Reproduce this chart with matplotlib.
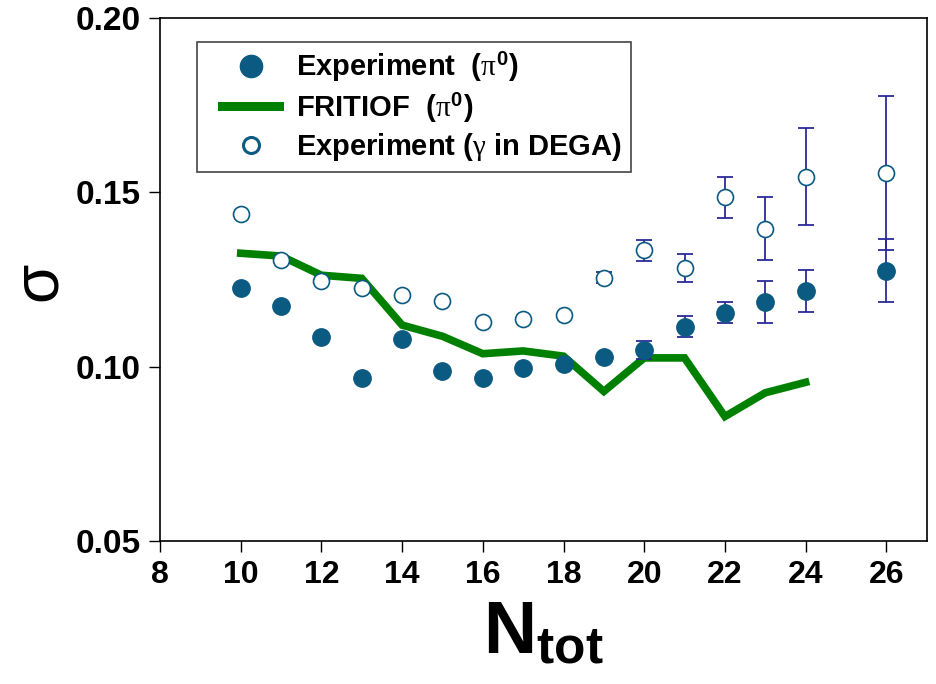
import numpy as np
import matplotlib.pyplot as plt
from matplotlib.lines import Line2D
from matplotlib.legend_handler import HandlerLine2D

plt.rcParams['font.family'] = ['Liberation Sans', 'DejaVu Sans']
plt.rcParams['mathtext.fontset'] = 'custom'
plt.rcParams['mathtext.rm'] = 'Liberation Sans:bold'
plt.rcParams['mathtext.it'] = 'Liberation Serif'
plt.rcParams['mathtext.bf'] = 'Liberation Sans:bold'

# experiment pi0 (filled)
n_pi0 = [10, 11, 12, 13, 14, 15, 16, 17, 18, 19, 20, 21, 22, 23, 24, 26]
sig_pi0 = [0.1224, 0.1175, 0.1086, 0.0968, 0.1078, 0.0988, 0.0968, 0.0996,
           0.1007, 0.1027, 0.1048, 0.1115, 0.1154, 0.1186, 0.1216, 0.1275]
err_pi0 = [0, 0, 0, 0, 0, 0, 0, 0, 0, 0, 0.0025, 0.003, 0.003, 0.006, 0.006, 0.009]

# experiment gamma in DEGA (open)
n_gam = [10, 11, 12, 13, 14, 15, 16, 17, 18, 19, 20, 21, 22, 23, 24, 26]
sig_gam = [0.1437, 0.1307, 0.1245, 0.1226, 0.1205, 0.1187, 0.1127, 0.1137,
           0.1147, 0.1255, 0.1334, 0.1284, 0.1485, 0.1395, 0.1545, 0.1555]
err_gam = [0, 0, 0, 0, 0, 0, 0, 0, 0, 0.0015, 0.003, 0.004, 0.006, 0.009, 0.0138, 0.022]

# FRITIOF pi0
n_fr = [10, 11, 12, 13, 14, 15, 16, 17, 18, 19, 20, 21, 22, 23, 24]
sig_fr = [0.1325, 0.1317, 0.1262, 0.1253, 0.1119, 0.1087, 0.1037, 0.1045,
          0.1030, 0.0929, 0.1025, 0.1025, 0.0857, 0.0925, 0.0955]

blue = '#0b5a82'
ebar = '#2a2a9a'
green = '#008000'

fig = plt.figure(figsize=(9.36, 6.84), dpi=100)
ax = fig.add_axes([0.171, 0.209, 0.819, 0.765])

ax.plot(n_fr, sig_fr, color=green, lw=5.5, solid_joinstyle='miter', zorder=2)

ge = np.array(err_gam)
ax.errorbar(n_gam, sig_gam, yerr=np.where(ge > 0, ge, np.nan), fmt='none',
            ecolor=ebar, elinewidth=1.3, capsize=5.5, capthick=1.3, zorder=3)
ax.plot(n_gam, sig_gam, 'o', ms=11.5, mfc='white', mec=blue, mew=1.2, zorder=4)

pe = np.array(err_pi0)
ax.errorbar(n_pi0, sig_pi0, yerr=np.where(pe > 0, pe, np.nan), fmt='none',
            ecolor=ebar, elinewidth=1.3, capsize=5.5, capthick=1.3, zorder=3)
ax.plot(n_pi0, sig_pi0, 'o', ms=12.5, color=blue, mec=blue, zorder=5)

ax.set_xlim(8, 27)
ax.set_ylim(0.05, 0.20)
ax.set_xticks(range(8, 27, 2))
ax.set_yticks([0.05, 0.10, 0.15, 0.20])
ax.set_yticklabels(['0.05', '0.10', '0.15', '0.20'], fontsize=24, fontweight='bold')
ax.set_xticklabels([str(v) for v in range(8, 27, 2)], fontsize=23, fontweight='bold')
ax.tick_params(axis='both', direction='out', length=8, width=1, color='black')
ax.tick_params(axis='y', pad=6)
ax.tick_params(axis='x', pad=6)
for s in ax.spines.values():
    s.set_linewidth(1.2)

ax.set_xlabel(r'N$_{\mathrm{tot}}$', fontsize=53, fontweight='bold', labelpad=6)
fig.text(0.041, 0.589, 'σ', fontsize=46, rotation=90, ha='center', va='center')

handles = [
    Line2D([], [], ls='none', marker='o', ms=16, color=blue),
    Line2D([], [], color=green, lw=6.5),
    Line2D([], [], ls='none', marker='o', ms=11.5, mfc='white', mec=blue, mew=2.2),
]
labels = [r'Experiment  ($\pi^{\mathrm{0}}$)', r'FRITIOF  ($\pi^{\mathrm{0}}$)',
          r'Experiment ($\gamma$ in DEGA)']
leg = ax.legend(handles, labels, loc='upper left', bbox_to_anchor=(0.048, 0.954),
                frameon=True, fancybox=False, edgecolor='#444444', framealpha=1,
                prop={'weight': 'bold', 'size': 21}, handlelength=2.53,
                handletextpad=0.58, labelspacing=0.22, borderpad=0.3,
                borderaxespad=0, handler_map={Line2D: HandlerLine2D(xpad=0.55)})
leg.get_frame().set_linewidth(1.2)

fig.savefig('out.png', dpi=100)
